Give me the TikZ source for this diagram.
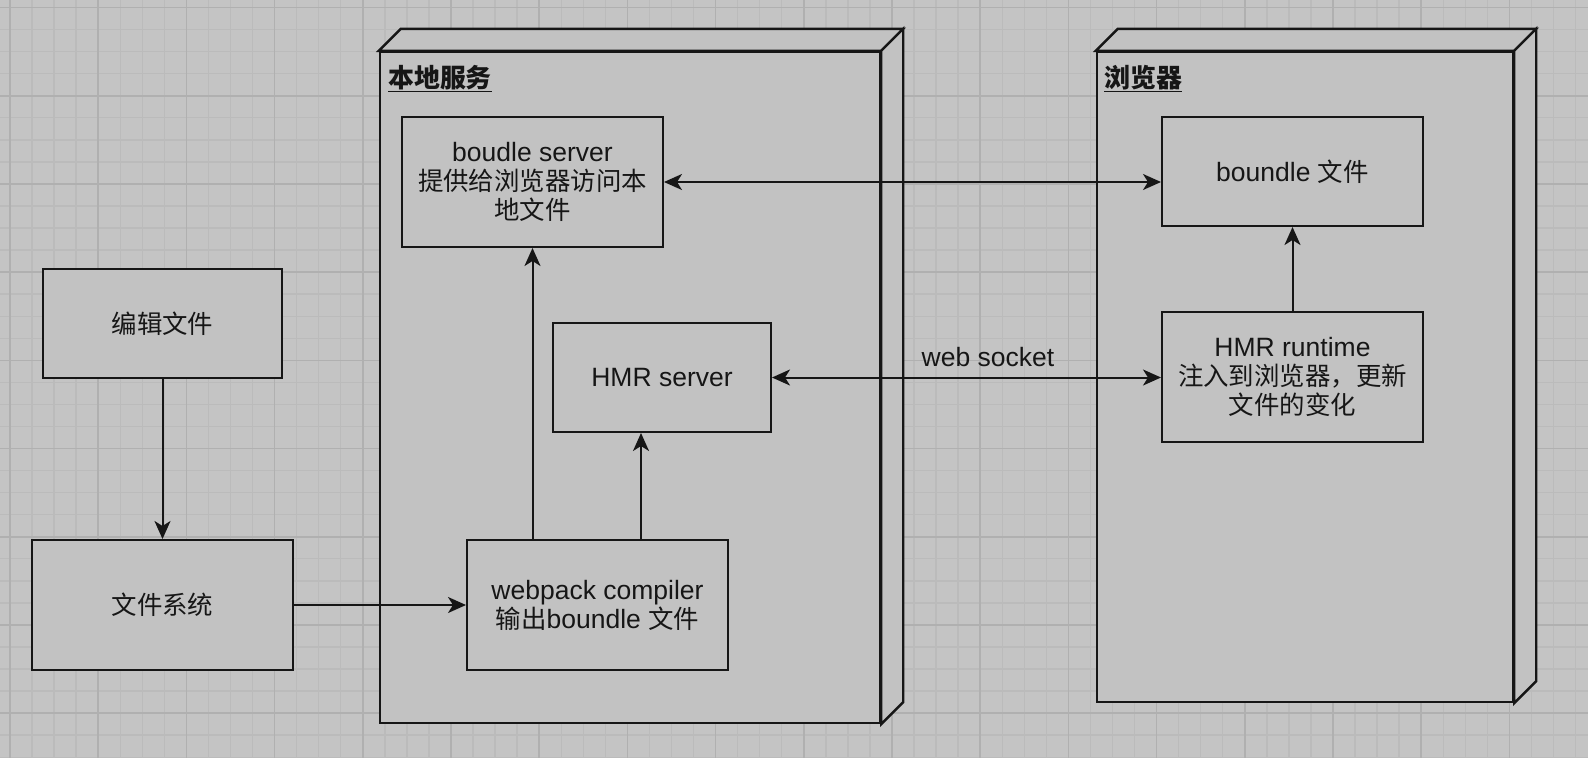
\documentclass[tikz,border=0pt]{standalone}
\usepackage{fontspec}
\setmainfont{Liberation Sans}
\newfontfamily\cjk[Scale=0.96]{Noto Sans CJK SC}
\usetikzlibrary{arrows.meta}
\definecolor{bgc}{RGB}{196,196,196}
\definecolor{minorc}{RGB}{187,187,187}
\definecolor{majorc}{RGB}{176,176,176}
\definecolor{boxfill}{RGB}{194,194,194}
\definecolor{ink}{RGB}{22,22,22}
\begin{document}
\begin{tikzpicture}[x=1pt,y=-1pt,
  minorline/.style={draw=minorc,line width=1.4pt},
  majorline/.style={draw=majorc,line width=1.6pt},
  box/.style={draw=ink,fill=boxfill,line width=2pt,align=center,inner sep=4pt,
    font=\fontsize{26.5}{29}\selectfont,text=ink},
  container/.style={draw=ink,fill=boxfill,line width=2.4pt},
  face/.style={draw=ink,fill=boxfill,line width=2.4pt,line join=miter},
  ctitle/.style={anchor=base west,inner sep=0pt,text=ink,font=\fontsize{27}{28}\selectfont\bfseries},
  tip/.tip={Stealth[length=18pt,width=16pt,inset=5pt]},
  arr/.style={draw=ink,line width=2pt,-tip},
  darr/.style={draw=ink,line width=2pt,tip-tip},
  lbl/.style={inner sep=0pt,text=ink,font=\fontsize{26.5}{28}\selectfont}
]
\useasboundingbox (0,0) rectangle (1588,758);
\fill[bgc] (0,0) rectangle (1588,758);
% grid
\foreach \i in {0,...,72} { \draw[minorline] ({10+22.05*\i},0) -- ({10+22.05*\i},758); }
\foreach \j in {0,...,34} { \draw[minorline] (0,{7.5+22.05*\j}) -- (1588,{7.5+22.05*\j}); }
\foreach \i in {0,4,...,72} { \draw[majorline] ({10+22.05*\i},0) -- ({10+22.05*\i},758); }
\foreach \j in {0,4,...,32} { \draw[majorline] (0,{7.5+22.05*\j}) -- (1588,{7.5+22.05*\j}); }

% containers
\node[container,minimum width=500pt,minimum height=671pt,inner sep=0pt] (local) at (630,387.5) {};
\draw[face] (local.north west) -- ++(22,-22) -- ([shift={(22,-22)}]local.north east) -- (local.north east) -- cycle;
\draw[face] (local.north east) -- ++(22,-22) -- ([shift={(22,-22)}]local.south east) -- (local.south east) -- cycle;
\node[ctitle] (localt) at (388,87) {\cjk\underline{本地服务}};

\node[container,minimum width=416pt,minimum height=650pt,inner sep=0pt] (brow) at (1305,377) {};
\draw[face] (brow.north west) -- ++(22,-22) -- ([shift={(22,-22)}]brow.north east) -- (brow.north east) -- cycle;
\draw[face] (brow.north east) -- ++(22,-22) -- ([shift={(22,-22)}]brow.south east) -- (brow.south east) -- cycle;
\node[ctitle] (browt) at (1104,87) {\cjk\underline{浏览器}};

% boxes
\node[box,minimum width=239pt,minimum height=109pt] (edit) at (162.5,323.5) {{\cjk 编辑文件}};
\node[box,minimum width=261pt,minimum height=130pt] (fs) at (162.5,605) {{\cjk 文件系统}};
\node[box,minimum width=261pt,minimum height=130pt] (bserver) at (532.5,182) {boudle server\\{\cjk 提供给浏览器访问本}\\{\cjk 地文件}};
\node[box,minimum width=218pt,minimum height=109pt] (hmrs) at (662,377.5) {HMR server};
\node[box,minimum width=261pt,minimum height=130pt] (wp) at (597.5,605) {webpack compiler\\{\cjk 输出}boundle {\cjk 文件}};
\node[box,minimum width=261pt,minimum height=109pt] (bfile) at (1292.5,171.5) {boundle {\cjk 文件}};
\node[box,minimum width=261pt,minimum height=130pt] (hmrr) at (1292.5,377) {HMR runtime\\{\cjk 注入到浏览器，更新}\\{\cjk 文件的变化}};

% connectors
\draw[arr] (edit.south) -- (fs.north);
\draw[arr] (fs.east) -- (wp.west);
\draw[arr] (bserver.south |- wp.north) -- (bserver.south);
\coordinate (wpup) at ([xshift=43.5pt]wp.north);
\draw[arr] (wpup) -- (wpup |- hmrs.south);
\draw[darr] (bserver.east) -- (bserver.east -| bfile.west);
\draw[darr] (hmrs.east) -- (hmrs.east -| hmrr.west);
\node[lbl] (ws) at (988,357) {web socket};
\draw[arr] (hmrr.north) -- (bfile.south);
\end{tikzpicture}
\end{document}
